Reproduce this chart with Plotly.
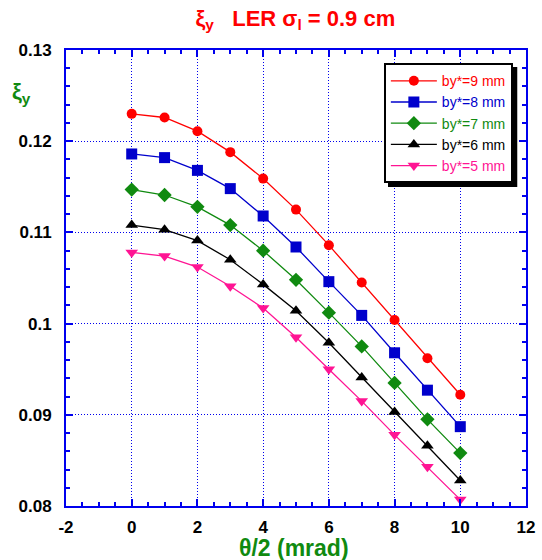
import plotly.graph_objects as go

theta_half = [0, 1, 2, 3, 4, 5, 6, 7, 8, 9, 10]
xi_by9 = [0.1230, 0.1226, 0.1211, 0.1188, 0.1159, 0.1125, 0.1086, 0.1045, 0.1004, 0.0962, 0.0922]
xi_by8 = [0.1186, 0.1182, 0.1168, 0.1148, 0.1118, 0.1084, 0.1046, 0.1009, 0.0968, 0.0927, 0.0887]
xi_by7 = [0.1147, 0.1141, 0.1128, 0.1108, 0.1080, 0.1048, 0.1012, 0.0975, 0.0935, 0.0895, 0.0858]
xi_by6 = [0.1108, 0.1103, 0.1091, 0.1070, 0.1043, 0.1014, 0.0979, 0.0941, 0.0903, 0.0866, 0.0828]
xi_by5 = [0.1078, 0.1074, 0.1062, 0.1041, 0.1017, 0.0985, 0.0950, 0.0915, 0.0878, 0.0843, 0.0807]

x_tickvals = [-2, 0, 2, 4, 6, 8, 10, 12]
x_ticktext = ["-2", "0", "2", "4", "6", "8", "10", "12"]
y_tickvals = [0.08, 0.09, 0.10, 0.11, 0.12, 0.13]
y_ticktext = ["0.08", "0.09", "0.1", "0.11", "0.12", "0.13"]

series = [
    ("by*=9 mm", xi_by9, "#FF0000", "circle", 10),
    ("by*=8 mm", xi_by8, "#0000CC", "square", 11),
    ("by*=7 mm", xi_by7, "#108A10", "diamond", 11),
    ("by*=6 mm", xi_by6, "#000000", "triangle-up", 11),
    ("by*=5 mm", xi_by5, "#FF1493", "triangle-down", 11),
]

FONT = "Liberation Sans, Arial, sans-serif"
AXIS_BLUE = "#0000EE"
GREEN = "#108A10"

fig = go.Figure()
for name, ys, col, sym, sz in series:
    fig.add_trace(go.Scatter(
        x=theta_half, y=ys, mode="lines+markers",
        name=f"<span style='color:{col}'>{name}</span>",
        line=dict(color=col, width=1.3),
        marker=dict(color=col, symbol=sym, size=sz, line=dict(width=0)),
    ))

axis_common = dict(
    showline=True, linecolor=AXIS_BLUE, linewidth=2, mirror="allticks",
    ticks="inside", tickcolor=AXIS_BLUE, ticklen=7, tickwidth=1.5,
    showgrid=True, gridcolor=AXIS_BLUE, griddash="1px,2px", gridwidth=1,
    zeroline=False, automargin=False,
    tickfont=dict(family=FONT, size=17, color="black", weight="bold"),
)

fig.update_xaxes(range=[-2, 12], tickmode="array", tickvals=x_tickvals, ticktext=x_ticktext,
                 minor=dict(dtick=0.5, tick0=0, ticks="inside", ticklen=4, tickcolor=AXIS_BLUE, showgrid=False),
                 ticklabelstandoff=5,
                 **axis_common)
fig.update_yaxes(range=[0.08, 0.13], tickmode="array", tickvals=y_tickvals, ticktext=y_ticktext,
                 minor=dict(dtick=0.002, tick0=0.08, ticks="inside", ticklen=4, tickcolor=AXIS_BLUE, showgrid=False),
                 ticklabelstandoff=9,
                 **axis_common)

fig.update_layout(
    width=542, height=560,
    margin=dict(l=66, r=16, t=50, b=54),
    plot_bgcolor="white", paper_bgcolor="white",
    title=dict(text="ξ<sub>y</sub>&nbsp;&nbsp;&nbsp;LER σ<sub>l</sub> = 0.9 cm",
               font=dict(family=FONT, size=22, color="#FF0000", weight="bold"),
               x=0.545, xanchor="center", y=0.968, yanchor="middle"),
    showlegend=True,
    legend=dict(x=0.691, y=0.971, xanchor="left", yanchor="top",
                bgcolor="white", bordercolor="black", borderwidth=2,
                font=dict(family=FONT, size=14), tracegroupgap=0, itemwidth=46),
    annotations=[
        dict(text="ξ<sub>y</sub>", xref="paper", yref="paper",
             x=-0.097, y=0.905, xanchor="center", yanchor="middle", showarrow=False,
             font=dict(family=FONT, size=22, color=GREEN, weight="bold")),
        dict(text="θ/2 (mrad)", xref="paper", yref="paper",
             x=0.495, y=-0.093, xanchor="center", yanchor="middle", showarrow=False,
             font=dict(family=FONT, size=23, color=GREEN, weight="bold")),
    ],
    shapes=[dict(type="rect", xref="paper", yref="paper",
                 x0=0.700, x1=0.981, y0=0.6996, y1=0.9627, fillcolor="black", line=dict(width=0), layer="above")],
)

fig.write_html("out.html", config={"displayModeBar": False},
               post_script="document.body.style.margin='0';")
